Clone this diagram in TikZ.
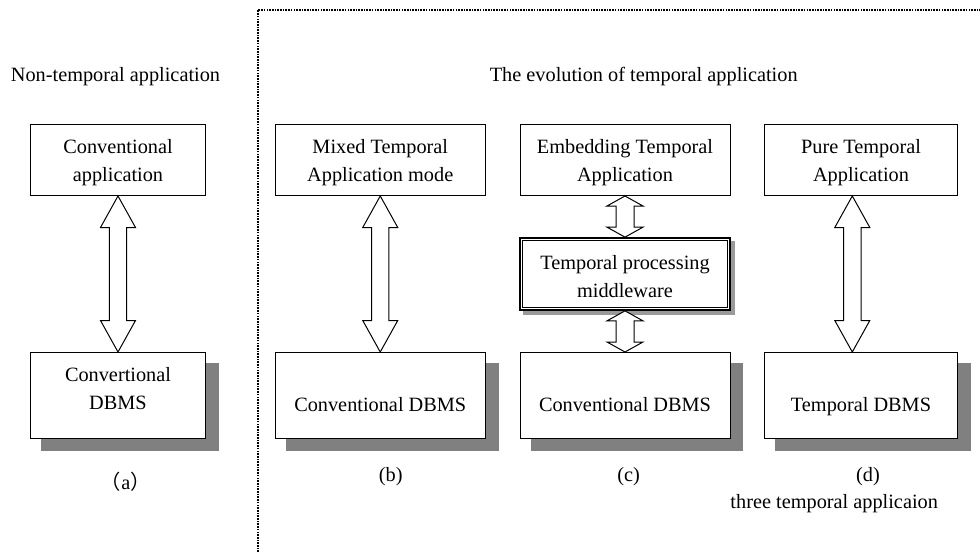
\documentclass[tikz,border=0pt]{standalone}
\usepackage{fontspec}
\setmainfont{Liberation Serif}
\newfontfamily\cjkfont{Noto Sans CJK SC}
\usetikzlibrary{calc,backgrounds}
\definecolor{shadowgray}{HTML}{808080}
\definecolor{midshadow}{HTML}{9A9A9A}
\newcommand\twolines[2]{\begin{tabular}[t]{@{}c@{}}#1\\#2\end{tabular}}
\newcommand\fatarrow[5]{%
  \draw[fat] let \p1=(#1), \p2=(#2) in
    (\x1,\y1) -- (\x1+#4pt,\y1-#3pt) -- (\x1+#5pt,\y1-#3pt) -- (\x1+#5pt,\y2+#3pt)
    -- (\x1+#4pt,\y2+#3pt) -- (\x1,\y2) -- (\x1-#4pt,\y2+#3pt) -- (\x1-#5pt,\y2+#3pt)
    -- (\x1-#5pt,\y1-#3pt) -- (\x1-#4pt,\y1-#3pt) -- cycle;}
\tikzset{
  box/.style={draw=black, line width=1pt, fill=white, inner sep=0pt},
  appbox/.style={box, minimum height=71.5pt, text height=14pt, text depth=26.9pt},
  dbbox/.style={box, minimum height=85.5pt},
  dbtwo/.style={dbbox, text height=14pt, text depth=42.5pt},
  dbone/.style={dbbox, text height=31.5pt, text depth=0pt},
  midbox/.style={box, line width=1.7pt, minimum height=72pt, text height=14pt, text depth=24pt},
  innerframe/.style={draw=black, line width=0.9pt},
  shadowfill/.style={fill=shadowgray},
  midshadowfill/.style={fill=midshadow},
  fat/.style={draw=black, line width=1pt, fill=white, line join=miter},
  caption/.style={anchor=base, inner sep=0pt},
  frameline/.style={line width=1.7pt, dash pattern=on 1.6pt off 1.1pt}
}
\begin{document}
\begin{tikzpicture}[x=1pt, y=-1pt, node font=\fontsize{20.3}{28}\selectfont]
\useasboundingbox (0,0) rectangle (980,552);

% dotted frame
\draw[frameline] (257.7,552) -- (257.7,10) -- (980,10);

% titles
\node[caption] (nt) at (115.5,81.3) {Non-temporal application};
\node[caption] (ev) at (643.7,81.7) {The evolution of temporal application};

% boxes
\node[appbox, minimum width=175pt] (A1) at (118,159.75) {\twolines{Conventional}{application}};
\node[dbtwo, minimum width=175pt] (A2) at (118,395.25) {\twolines{Convertional}{DBMS}};
\node[appbox, minimum width=210.5pt] (B1) at (380.25,159.75) {\twolines{Mixed Temporal}{Application mode}};
\node[dbone, minimum width=210.5pt] (B2) at (380.25,395.25) {Conventional DBMS};
\node[appbox, minimum width=210pt] (C1) at (625,159.75) {\twolines{Embedding Temporal}{Application}};
\node[midbox, minimum width=210pt] (M) at (625,274) {\twolines{Temporal processing}{middleware}};
\node[dbone, minimum width=210pt] (C2) at (625,395.25) {Conventional DBMS};
\node[appbox, minimum width=193.4pt] (D1) at (861,159.75) {\twolines{Pure Temporal}{Application}};
\node[dbone, minimum width=193.4pt] (D2) at (861,395.25) {Temporal DBMS};

\draw[innerframe] ($(M.north west)+(3.6,3.6)$) rectangle ($(M.south east)+(-3.6,-3.6)$);

% shadows
\begin{scope}[on background layer]
  \fill[white] (0,0) rectangle (980,552);
  \foreach \n in {A2,B2,C2,D2}
    \fill[shadowfill] ($(\n.north west)+(11,10.5)$) rectangle ($(\n.south east)+(12.5,12.3)$);
  \fill[midshadowfill] ($(M.north west)+(4,4)$) rectangle ($(M.south east)+(4.3,4)$);
\end{scope}

% double arrows
\fatarrow{A1.south}{A2.north}{31.5}{17.5}{8.7}
\fatarrow{B1.south}{B2.north}{31.5}{17.5}{8.7}
\fatarrow{C1.south}{M.north}{10}{18}{9}
\fatarrow{M.south}{C2.north}{10}{18}{9}
\fatarrow{$(D1.south)+(-8.7,0)$}{$(D2.north)+(-8.7,0)$}{31.5}{17.5}{8.7}

% captions
\node[caption] (la) at (125.8,489.3) {{\cjkfont （}a{\cjkfont ）}};
\node[caption] (lb) at (390.8,481.7) {(b)};
\node[caption] (lc) at (628.7,481.3) {(c)};
\node[caption] (ld) at (868,481.5) {(d)};
\node[caption] (th) at (834.2,508.3) {three temporal applicaion};
\end{tikzpicture}
\end{document}
